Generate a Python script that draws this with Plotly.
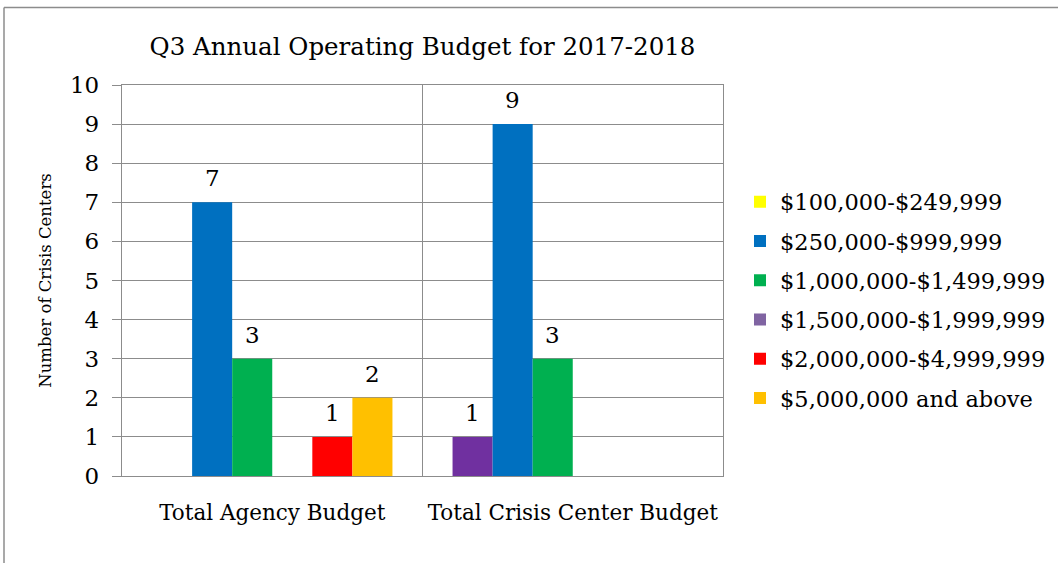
import plotly.graph_objects as go

# Budget categories on the x axis
categories = ["Total Agency Budget", "Total Crisis Center Budget"]

# Budget ranges (legend entries) and the count of crisis centers in each
ranges = [
    "$100,000-$249,999",
    "$250,000-$999,999",
    "$1,000,000-$1,499,999",
    "$1,500,000-$1,999,999",
    "$2,000,000-$4,999,999",
    "$5,000,000 and above",
]
counts_100k_250k = [0, 1]
counts_250k_1m = [7, 9]
counts_1m_1_5m = [3, 3]
counts_1_5m_2m = [0, 0]
counts_2m_5m = [1, 0]
counts_5m_plus = [2, 0]

y_ticks = list(range(0, 11))

series = [counts_100k_250k, counts_250k_1m, counts_1m_1_5m,
          counts_1_5m_2m, counts_2m_5m, counts_5m_plus]

# Fill colours per series; the first series has its second bar recoloured
colors = [
    ["#FFFF00", "#7030A0"],
    "#0070C0",
    "#00B050",
    "#8064A2",
    "#FF0000",
    "#FFC000",
]

FONT = "DejaVu Serif"
GRID = "#8C8C8C"
BARGAP = 0.2

# Plot-area placement in pixels
W, H = 1058, 563
ML, MR, MT, MB = 122, 335, 85, 87
PW, PH = W - ML - MR, H - MT - MB

fig = go.Figure()
for name, vals, col in zip(ranges, series, colors):
    fig.add_trace(go.Bar(
        name=name,
        x=categories,
        y=vals,
        marker=dict(color=col, line=dict(width=0)),
        legendgroup=name,
    ))

# Value labels above each non-zero bar, centred on its slot in the group
n_series = len(series)
bar_px = PW / len(categories) * (1 - BARGAP) / n_series
for i, vals in enumerate(series):
    for cat, v in zip(categories, vals):
        if v:
            fig.add_annotation(
                x=cat, y=v, text=str(v),
                xshift=(i - (n_series - 1) / 2) * bar_px, yshift=9,
                yanchor="bottom", showarrow=False,
                font=dict(family=FONT, size=23, color="#000000"),
            )


def px_to_paper_x(px):
    return (px - ML) / PW


def px_to_paper_y(py):
    return (H - MB - py) / PH


# Outer chart frame (left and top edges)
frame = dict(color="#8C8C8C", width=1.5)
fig.add_shape(type="line", xref="paper", yref="paper",
              x0=px_to_paper_x(4), x1=px_to_paper_x(W + 5),
              y0=px_to_paper_y(7.5), y1=px_to_paper_y(7.5), line=frame)
fig.add_shape(type="line", xref="paper", yref="paper",
              x0=px_to_paper_x(4), x1=px_to_paper_x(4),
              y0=px_to_paper_y(7.5), y1=px_to_paper_y(H + 5), line=frame)

fig.update_layout(
    width=W, height=H,
    margin=dict(l=ML, r=MR, t=MT, b=MB, autoexpand=False),
    paper_bgcolor="#FFFFFF",
    plot_bgcolor="#FFFFFF",
    barmode="group",
    bargap=BARGAP,
    bargroupgap=0,
    font=dict(family=FONT, color="#000000"),
    title=dict(
        text="Q3 Annual Operating Budget for 2017-2018",
        font=dict(family=FONT, size=24.5, color="#000000"),
        x=0.5, xref="paper", xanchor="center",
        y=1 - 46 / H, yref="container", yanchor="middle",
    ),
    xaxis=dict(
        type="category",
        tickson="boundaries",
        ticks="",
        tickangle=0,
        showgrid=True,
        gridcolor=GRID, gridwidth=1.3,
        showline=True, linecolor=GRID, linewidth=1.3, mirror=True,
        tickfont=dict(family=FONT, size=21.5, color="#000000"),
        ticklabelstandoff=17,
        fixedrange=True,
    ),
    yaxis=dict(
        range=[0, 10],
        tickvals=y_ticks,
        ticks="outside", ticklen=9, tickcolor=GRID, tickwidth=1.3,
        showgrid=True,
        gridcolor=GRID, gridwidth=1.3,
        showline=True, linecolor=GRID, linewidth=1.3, mirror=True,
        zeroline=False,
        tickfont=dict(family=FONT, size=23, color="#000000"),
        ticklabelstandoff=8,
        title=dict(text="Number of Crisis Centers",
                   font=dict(family=FONT, size=16.5, color="#000000"),
                   standoff=14),
        fixedrange=True,
    ),
    legend=dict(
        x=px_to_paper_x(740), xanchor="left",
        y=px_to_paper_y(300), yanchor="middle",
        font=dict(family=FONT, size=22.5, color="#000000"),
        tracegroupgap=7,
        itemwidth=30,
        bgcolor="rgba(0,0,0,0)",
    ),
    showlegend=True,
)

fig.write_html("out.html")
